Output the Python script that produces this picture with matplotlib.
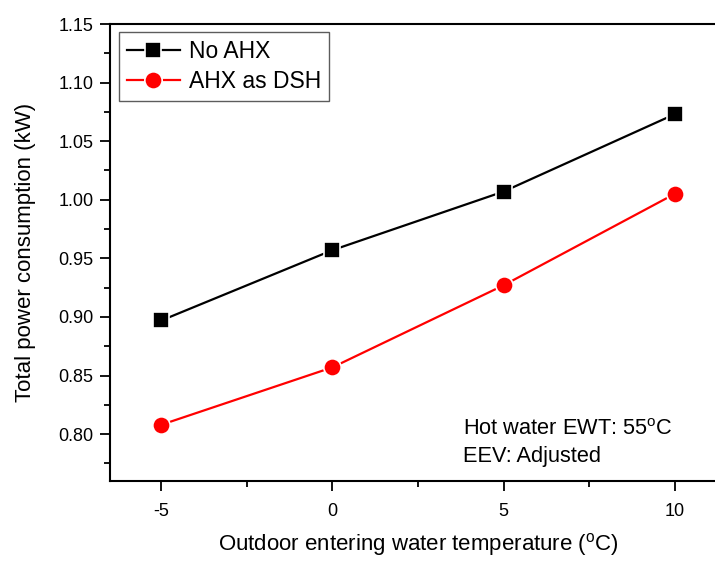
import matplotlib
matplotlib.use("Agg")
import matplotlib.pyplot as plt
from matplotlib.ticker import MultipleLocator

plt.rcParams['font.family'] = ['Liberation Sans', 'DejaVu Sans']
plt.rcParams['mathtext.fontset'] = 'custom'
plt.rcParams['mathtext.rm'] = 'Liberation Sans'
plt.rcParams['axes.unicode_minus'] = False

temps = [-5, 0, 5, 10]
no_ahx = [0.897, 0.957, 1.007, 1.073]
ahx_dsh = [0.808, 0.857, 0.927, 1.005]
series_names = ["No AHX", "AHX as DSH"]

fig = plt.figure(figsize=(7.15, 5.62), dpi=100)
ax = fig.add_axes([110/715, 81/562, 616/715, 457/562])

ax.plot(temps, no_ahx, color='black', lw=1.6, marker='s', ms=11, mfc='black',
        mec='white', mew=1.2, label=series_names[0])
ax.plot(temps, ahx_dsh, color='red', lw=1.6, marker='o', ms=12.5, mfc='red',
        mec='white', mew=1.2, label=series_names[1])

ax.set_xlim(-6.5, 11.5)
ax.set_ylim(0.76, 1.15)
ax.xaxis.set_major_locator(MultipleLocator(5))
ax.xaxis.set_minor_locator(MultipleLocator(2.5))
ax.yaxis.set_major_locator(MultipleLocator(0.05))
ax.yaxis.set_minor_locator(MultipleLocator(0.025))
ax.yaxis.set_major_formatter(matplotlib.ticker.FormatStrFormatter('%.2f'))
ax.tick_params(which='major', direction='out', length=7, width=1.3, labelsize=13, pad=5)
ax.tick_params(which='minor', direction='out', length=4, width=1.3)
ax.tick_params(axis='x', which='major', pad=9)
for s in ax.spines.values():
    s.set_linewidth(1.5)

ax.set_xlabel(r'Outdoor entering water temperature ($^{\rm o}$C)', fontsize=16, labelpad=8)
ax.set_ylabel('Total power consumption (kW)', fontsize=16, labelpad=16)

leg = ax.legend(loc='upper left', bbox_to_anchor=(119/715, 1 - 32/562),
                bbox_transform=fig.transFigure, fontsize=16.5, frameon=True,
                fancybox=False, edgecolor='#333333', handlelength=2.3,
                handletextpad=0.4, borderpad=0.35, labelspacing=0.3,
                borderaxespad=0)
leg.get_frame().set_linewidth(1.0)

fig.text(463/715, 1 - 435/562, r'Hot water EWT: 55$^{\rm o}$C', fontsize=15.7, va='baseline')
fig.text(463/715, 1 - 462/562, 'EEV: Adjusted', fontsize=15.7, va='baseline')

fig.savefig('out.png', dpi=100)
